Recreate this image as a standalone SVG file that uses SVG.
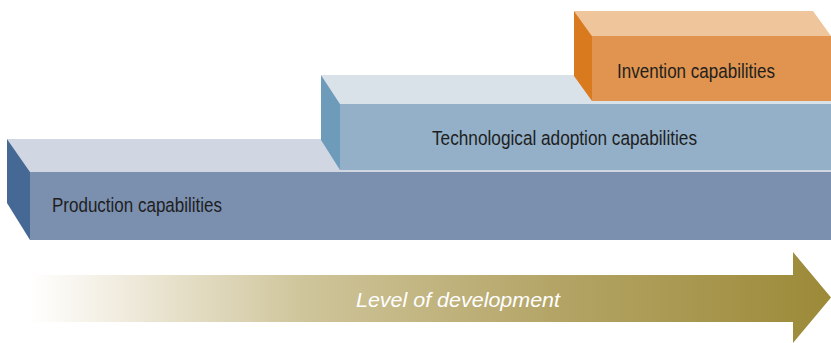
<svg xmlns="http://www.w3.org/2000/svg" width="831" height="343" viewBox="0 0 831 343">
  <defs>
    <linearGradient id="arrowFill" x1="30" y1="0" x2="831" y2="0" gradientUnits="userSpaceOnUse">
      <stop offset="0" stop-color="#ffffff"/>
      <stop offset="0.1" stop-color="#f2eee2"/>
      <stop offset="0.34" stop-color="#cfc59b"/>
      <stop offset="0.65" stop-color="#b4a567"/>
      <stop offset="1" stop-color="#9c8a38"/>
    </linearGradient>
  </defs>
  <style>
    .label { font-family: "Liberation Sans", Arial, sans-serif; font-size: 20.5px; fill: #1e1e1e; }
    .axis { font-family: "Liberation Sans", Arial, sans-serif; font-size: 21px; font-style: italic; fill: #ffffff; }
    .prod-top { fill: #d0d6e2; }
    .prod-side { fill: #456894; }
    .prod-front { fill: #7b8faf; }
    .tech-top { fill: #d9e1e9; }
    .tech-side { fill: #6f9bbb; }
    .tech-front { fill: #93b0c8; }
    .inv-top { fill: #efc59b; }
    .inv-side { fill: #d97a1e; }
    .inv-front { fill: #e0944f; }
  </style>

  <rect width="831" height="343" fill="#ffffff"/>

  <!-- lowest step -->
  <g id="production">
    <polygon class="prod-top" points="7,139 831,139 831,172 30,172"/>
    <polygon class="prod-side" points="7,139 30,172 30,240 7,203"/>
    <rect class="prod-front" x="30" y="172" width="801" height="68"/>
    <text class="label" x="52" y="212" textLength="170" lengthAdjust="spacingAndGlyphs">Production capabilities</text>
  </g>

  <!-- middle step -->
  <g id="technological">
    <polygon class="tech-top" points="321,75 831,75 831,104 340,104"/>
    <polygon class="tech-side" points="321,75 340,104 340,170 321,140"/>
    <rect class="tech-front" x="340" y="104" width="491" height="66"/>
    <text class="label" x="432" y="145" textLength="265" lengthAdjust="spacingAndGlyphs">Technological adoption capabilities</text>
  </g>

  <!-- top step -->
  <g id="invention">
    <polygon class="inv-top" points="574,11 813,11 831,36 592,36"/>
    <polygon class="inv-side" points="574,11 592,36 592,101 574,76"/>
    <rect class="inv-front" x="592" y="36" width="239" height="65"/>
    <text class="label" x="617" y="78" textLength="158" lengthAdjust="spacingAndGlyphs">Invention capabilities</text>
  </g>

  <!-- development axis -->
  <g id="connectors">
    <polygon fill="url(#arrowFill)" points="30,275 793,275 793,252 831,297.5 793,343 793,322 30,322"/>
    <text class="axis" x="356" y="307" textLength="204" lengthAdjust="spacingAndGlyphs">Level of development</text>
  </g>
</svg>
